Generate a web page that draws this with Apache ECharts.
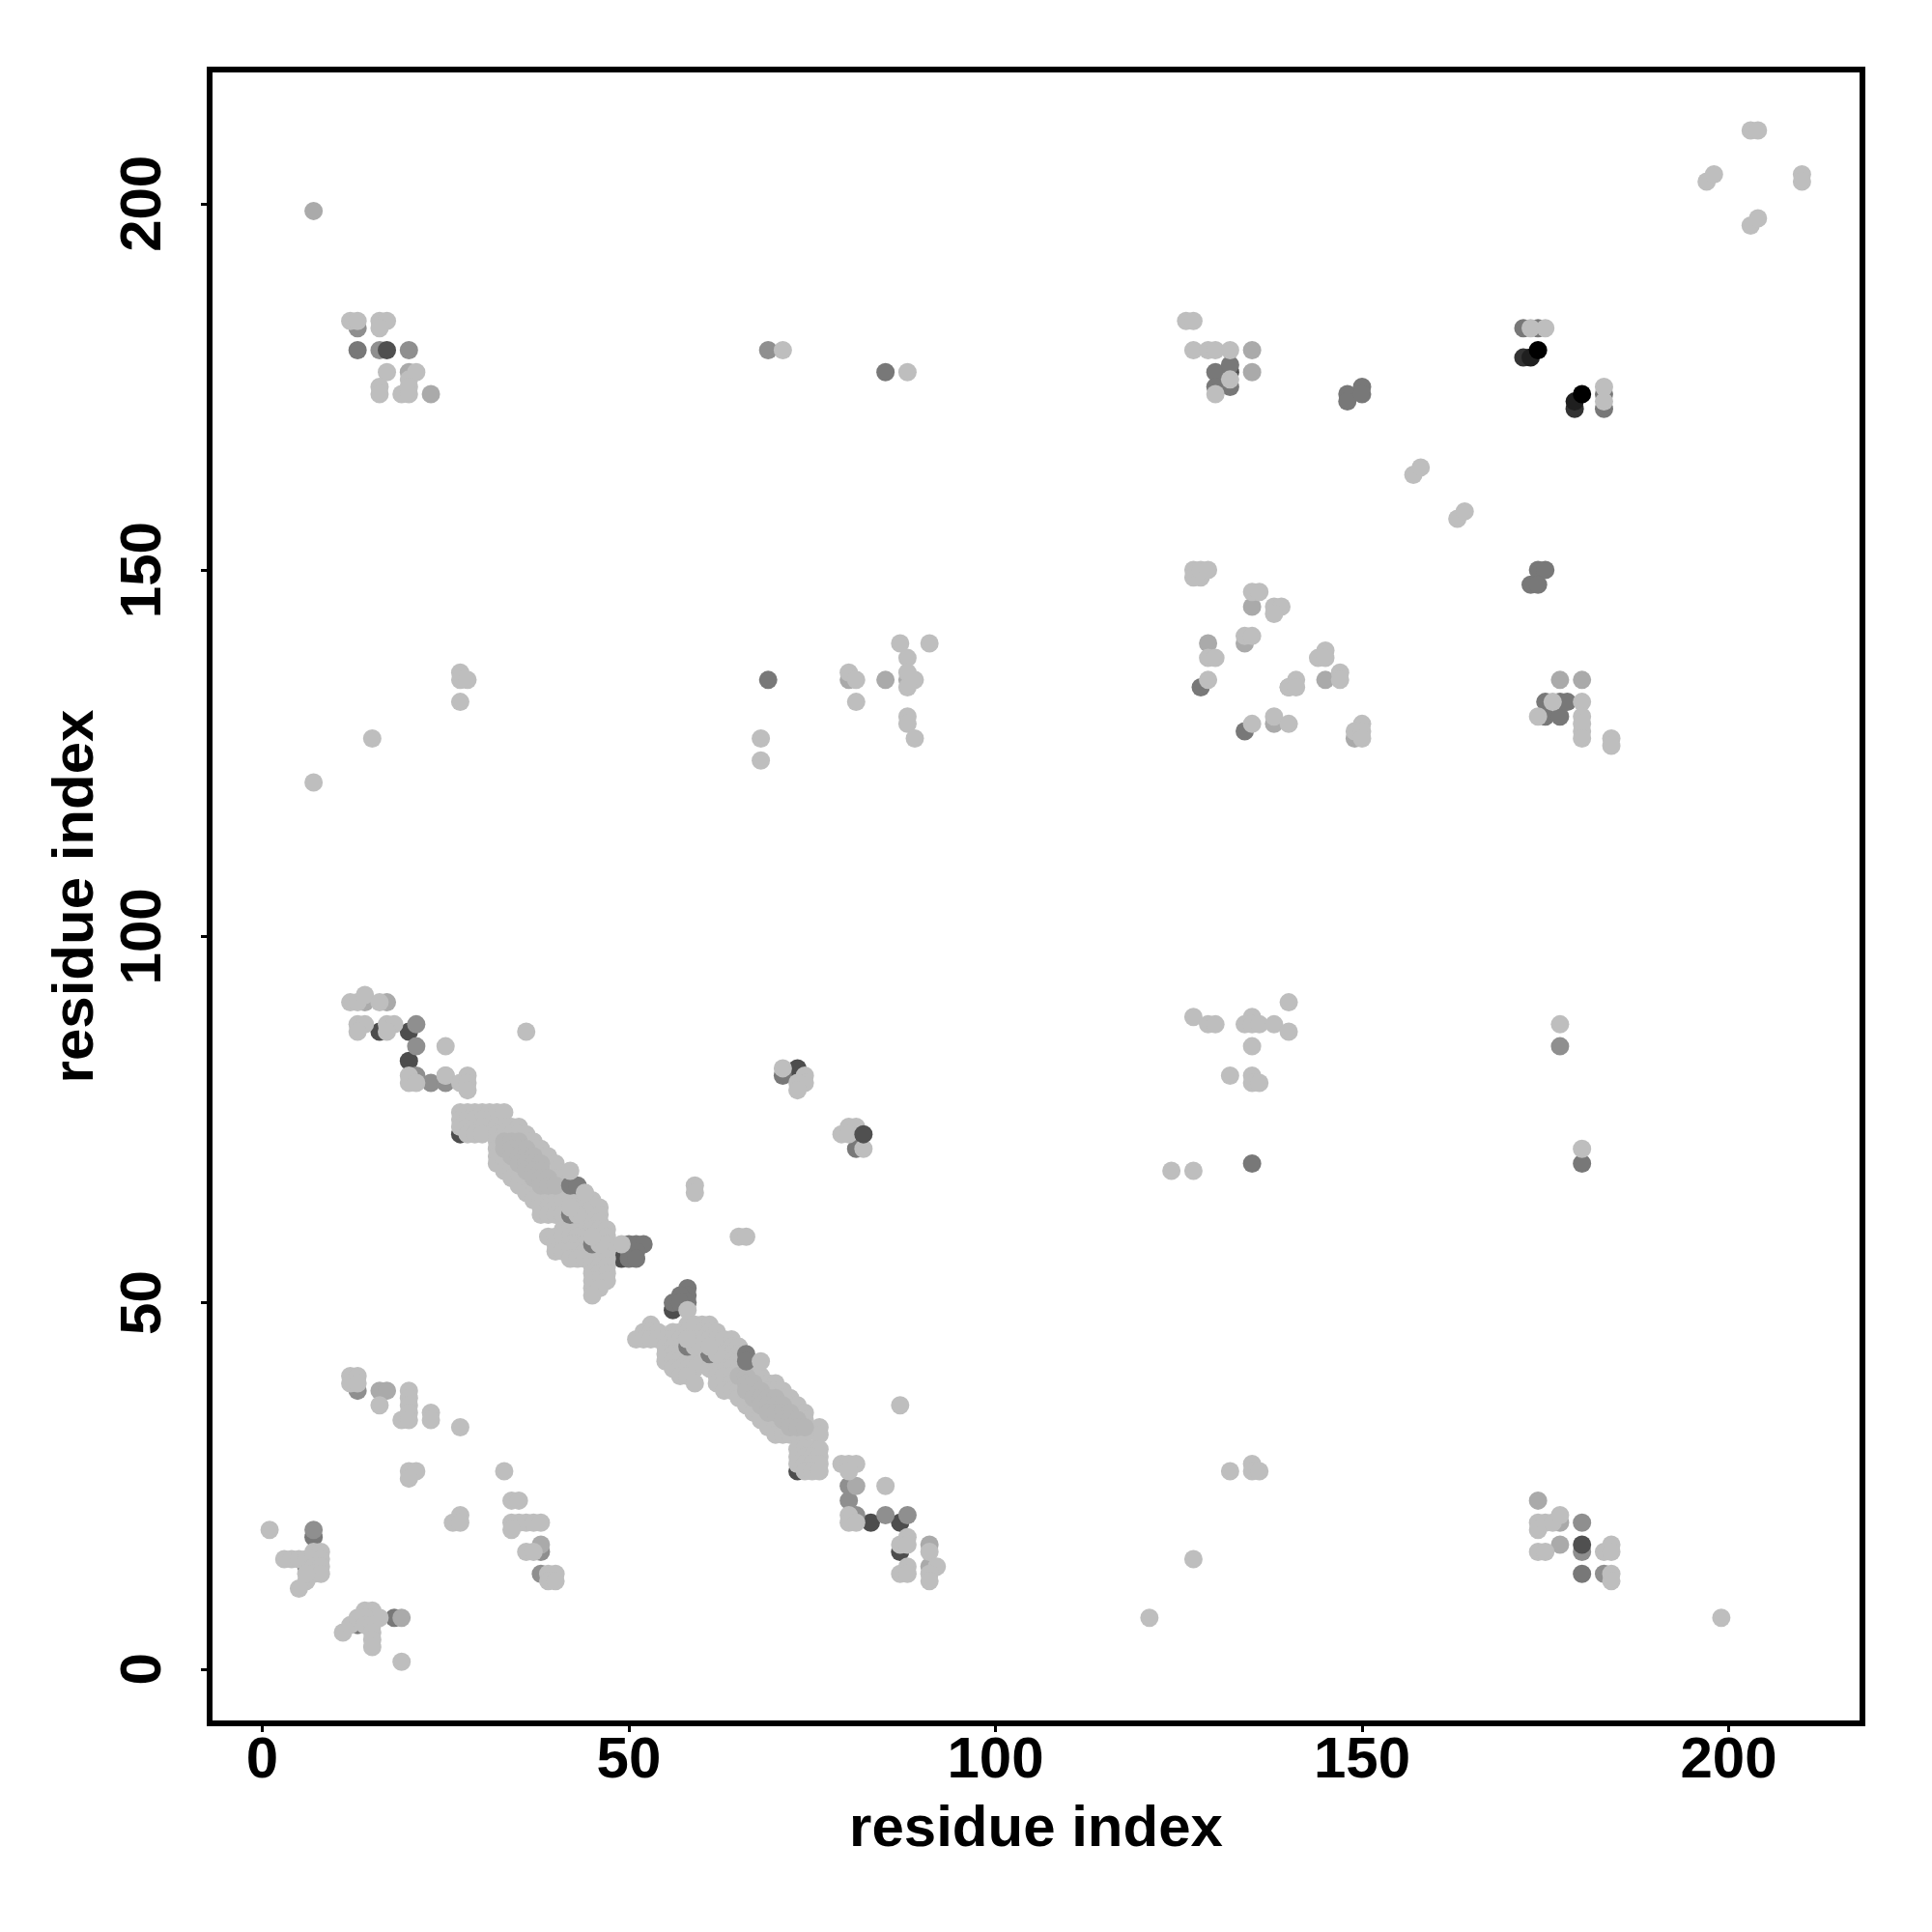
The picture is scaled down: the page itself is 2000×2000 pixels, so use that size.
<!DOCTYPE html>
<html><head><meta charset="utf-8">
<script src="https://cdn.jsdelivr.net/npm/echarts@6/dist/echarts.min.js"></script>
<style>html,body{margin:0;background:#fff}#c{width:2000px;height:2000px}</style></head>
<body><div id="c"></div>
<script>
const tickValues = [0, 50, 100, 150, 200];
const axisTitle = 'residue index';

// Contacts drawn from the bottom layer up, grouped by gray level
const contactsVeryDark = [[172,179],[179,172]];
const contactsBlackish = [[173,179],[179,173],[73,81],[81,73]];
const contactsDeep = [[16,87],[20,87],[20,83],[27,73],[73,27],[49,56],[56,49],[83,20],[87,20],[87,16],[73,82],[132,177]];
const contactsDark = [[13,180],[130,177],[130,175],[132,175],[148,174],[148,173],[150,175],[150,174],
  [172,183],[174,183],[183,174],[183,172],[85,177],[69,135],[128,134],[134,128],[177,132],[175,130],[177,130],
  [135,69],[180,69],[71,81],[81,71],[180,13],[7,18],[6,14],[13,6],[18,7],
  [50,58],[51,58],[52,58],[50,57],[51,57],[50,56],[51,56],
  [58,52],[58,51],[57,51],[58,50],[56,50],[57,50],
  [132,178],[174,150],[175,150],[173,148],[174,148],[178,132],[175,132]];
const contactsMedium = [[13,183],[69,180],[16,180],[20,180],[21,88],[21,85],[21,81],[23,80],[25,80],[80,25],[80,23],
  [81,21],[85,21],[88,21],[13,38],[38,16],[38,13],[7,19],[177,85],[180,20],[180,16],[183,13]];
const contactsMid = [[7,199],[23,174],[20,177],[135,180],[135,177],[177,135],[180,135],[14,91],[17,91],[25,81],
  [16,38],[17,38],[38,17],[19,7],[91,17],[91,14],[81,25],[174,23],[177,20],[177,17],[88,135],[80,135],
  [85,135],[145,135],[140,134],[135,145],[134,140],[129,140],[149,127],[138,129]];
const contactsLight = [[197,203],[198,204],[203,197],[204,198],[203,210],[204,210],[210,204],[210,203],
  [12,184],[13,184],[16,184],[17,184],[16,183],[17,177],[21,177],[16,175],[16,174],[19,174],[20,176],[20,175],[20,174],
  [71,180],[88,177],[126,184],[127,184],[127,180],[129,180],[130,180],[132,180],[132,176],[130,174],
  [173,183],[175,183],[183,175],[183,173],[157,163],[158,164],[163,157],[164,158],
  [127,150],[127,149],[128,149],[128,150],[129,150],[135,147],[136,147],[138,145],[139,145],[138,144],
  [134,141],[135,141],[129,138],[130,138],[129,135],[145,139],[144,138],[145,138],[147,136],[147,135],
  [141,135],[140,134],[141,134],[135,129],[138,130],[140,129],[150,129],[149,128],[150,128],[150,127],
  [176,132],[180,132],[174,130],[180,130],[180,129],[180,128],[180,127],[184,127],[184,126],
  [87,140],[91,140],[88,138],[80,136],[81,135],[88,136],[89,135],[88,134],[81,132],[88,130],[88,129],[89,127],
  [27,136],[27,135],[28,135],[27,132],[15,127],[7,121],[68,127],[68,124],
  [12,91],[13,91],[14,92],[16,91],[13,88],[14,88],[13,87],[17,88],[18,88],[17,87],[25,85],[36,87],
  [20,81],[20,80],[21,80],[25,81],[28,81],[27,80],[28,80],[28,79],
  [71,82],[74,81],[74,80],[73,80],[73,79],[79,73],[80,74],[81,74],[80,73],[82,71],
  [124,68],[127,68],[180,71],[127,89],[129,88],[130,88],[134,88],[135,89],[135,88],[136,88],[138,88],
  [140,91],[140,87],[135,85],[132,81],[135,81],[135,80],[136,80],[177,88],
  [59,66],[59,65],[65,59],[66,59],[58,49],
  [76,33],[76,32],[79,28],[80,28],[81,28],[80,27],[85,25],[87,36],[80,21],[80,20],[81,20],
  [88,18],[87,17],[88,17],[91,16],[88,14],[87,13],[88,13],[92,14],[91,13],[91,12],
  [121,7],[199,7],[127,15],[132,27],[135,28],[135,27],[136,27],
  [174,20],[174,19],[175,20],[176,20],[177,21],[174,16],[175,16],[184,17],[183,16],[184,16],[184,13],[184,12],
  [12,40],[13,40],[12,39],[13,39],[16,36],[20,38],[20,37],[20,36],[20,35],[19,34],[20,34],[23,35],[23,34],[27,33],
  [20,27],[21,27],[20,26],[33,27],[27,21],[26,20],[27,20],[34,23],[35,23],[34,20],[35,20],[36,20],[37,20],[38,20],[34,19],
  [36,16],[37,16],[39,13],[40,13],[39,12],[40,12],[1,19],[3,15],[4,15],[5,15],[6,15],[7,16],[8,16],[7,15],[8,15],
  [7,14],[8,14],[7,13],[8,13],[6,12],[5,11],[6,13],
  [11,5],[12,6],[13,7],[14,8],[15,8],[15,7],[16,7],[14,7],[14,6],[15,6],[15,5],[15,4],[15,3],[19,1]];

// The two dense diagonal bands: [row, [columns...]]
const bandRows = [
  [76,[27,28,29,30,31,32,33]],[75,[27,28,29,30]],[74,[27,28,29,30,32,33,34,35]],[73,[28,29,30,32,33,34,35,36]],
  [72,[32,33,34,35,36,37]],[71,[32,33,34,35,36,37,38]],[70,[32,33,34,35,36,37,38,39]],
  [69,[32,33,34,35,36,37,38,39,40]],[68,[33,34,35,36,37,38,39,40]],[67,[34,35,36,37,38,39,40,41]],
  [66,[35,36,37,38,39,40,41]],[65,[36,37,38,39,40,41,43,44]],[64,[37,38,39,40,41,42,43,44,45]],
  [63,[38,39,40,41,42,43,44,45,46]],[62,[38,39,40,41,43,44,45,46]],[61,[44,45,46]],
  [60,[41,42,43,45,46,47]],[59,[39,40,41,42,43,44,45,46,47]],[58,[40,41,42,43,44,45,46,47,49]],
  [57,[40,41,42,43,44,45,46,47]],[56,[42,43,44,45,46,47]],[55,[45,46,47]],[54,[45,46,47]],[53,[45,46,47]],[52,[45,46]],[51,[45]],
  [47,[53,58,59,60,61]],[46,[52,53,54,56,57,58,59,60,61,62]],[45,[51,52,53,54,55,56,57,58,59,60,61,62,63,64]],
  [44,[55,56,57,58,59,62,63,64,65]],[43,[55,56,57,58,59,62,63,64,65]],[42,[55,56,57,58,59,60,62,63,64,65]],
  [41,[56,57,58,59,61,62,63,64,65,66,67]],[40,[57,58,62,63,64,65,66,67,68]],[39,[59,62,63,64,65,66,67,68,69,70]],
  [38,[63,64,65,66,67,68,69,70,71]],[37,[65,66,67,68,69,70,71,72]],[36,[66,67,68,69,70,71,72,73]],
  [35,[67,68,69,70,71,72,73,74]],[34,[68,69,70,71,72,73,74]],[33,[69,70,71,72,73,74]],[32,[70,71,72,73,74]],
  [30,[73,74,75,76]],[29,[73,74,75,76]],[28,[73,74,75,76]],[27,[74,75,76]]];
// Slightly darker centre of the bands
const bandCoreRows = [
  [72,[33,34,35]],[71,[33,34,35,36]],[70,[34,35,36,37]],[69,[35,36,37,38]],[68,[36,37,38]],[67,[37,38,39]],[66,[38,39,40]],
  [40,[65,66]],[39,[66,67]],[38,[66,67,68]],[37,[67,68,69,70]],[36,[68,69,70,71]],[35,[69,70,71,72]],[34,[71,72,73]],[33,[72,73,74]]];

// Dark points that sit on top of the bands, then the light ones that partly hide them
const topDark = [[42,66],[43,66],[66,43],[66,42],[42,62],[45,58],[58,44],[61,43]];
const topLight = [[42,68],[68,42],[44,65],[43,62],[42,63],[46,58],[45,59],[59,44],[58,45],[62,43],[61,44]];
const topDeep = [[17,180],[180,17],[82,73]];
const topBlack = [[174,180],[180,174]];

const expand = rows => rows.flatMap(r => r[1].map(x => [x, r[0]]));

const layers = [
  [contactsVeryDark, '#333333'],
  [contactsBlackish, '#1f1f1f'],
  [contactsDeep, '#4d4d4d'],
  [contactsDark, '#787878'],
  [contactsMedium, '#8f8f8f'],
  [contactsMid, '#aaaaaa'],
  [contactsLight, '#bebebe'],
  [expand(bandRows), '#bebebe'],
  [expand(bandCoreRows), '#b6b6b6'],
  [topDark, '#7c7c7c'],
  [topLight, '#bebebe'],
  [topDeep, '#505050'],
  [topBlack, '#000000']
];

const fontFamily = '"Liberation Sans", Arial, sans-serif';
const axisCommon = {
  type: 'value',
  splitLine: { show: false },
  nameLocation: 'middle',
  name: axisTitle,
  nameTextStyle: { fontFamily, fontWeight: 'bold', fontSize: 60, color: '#000' },
  axisLine: { show: false, onZero: false },
  axisTick: { show: true, length: 9, customValues: tickValues, lineStyle: { color: '#000', width: 3 } }
};
const chart = echarts.init(document.getElementById('c'), null, { renderer: 'canvas' });
chart.setOption({
  animation: false,
  backgroundColor: '#fff',
  grid: { left: 217, top: 72, width: 1711, height: 1712, show: true, borderColor: '#000', borderWidth: 6, backgroundColor: 'transparent' },
  xAxis: Object.assign({}, axisCommon, {
    min: -7.18, max: 218.25, nameGap: 80,
    axisLabel: { customValues: tickValues, margin: 9, fontFamily, fontWeight: 'bold', fontSize: 60, color: '#000' }
  }),
  yAxis: Object.assign({}, axisCommon, {
    min: -7.4, max: 218.3, nameGap: 108,
    axisLabel: { customValues: tickValues, margin: 38, rotate: 90, fontFamily, fontWeight: 'bold', fontSize: 60, color: '#000', align: 'center' }
  }),
  series: layers.map(l => ({
    type: 'scatter', data: l[0], symbol: 'circle', symbolSize: 19, silent: true,
    itemStyle: { color: l[1], opacity: 1 }, emphasis: { disabled: true }
  }))
});
</script></body></html>
